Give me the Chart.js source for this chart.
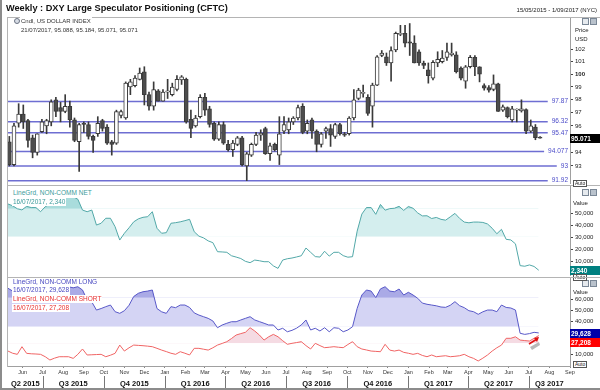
<!DOCTYPE html>
<html>
<head>
<meta charset="utf-8">
<script src="https://cdn.jsdelivr.net/npm/chart.js@4.4.1/dist/chart.umd.min.js"></script>
<style>
  body { margin: 0; background: #fff; }
  #box { position: relative; width: 600px; height: 390px; overflow: hidden; background: #fff;
         font-family: "Liberation Sans", Arial, sans-serif; color: #222; }
  #box canvas { position: absolute; left: 0; }
  .tx { position: absolute; white-space: nowrap; font-size: 6px; line-height: 8px; }
  .lg { position: absolute; white-space: nowrap; font-size: 6.5px; line-height: 8.5px; background: #fff; padding: 0 1px; }
  .hl { position: absolute; left: 7px; width: 593px; height: 1px; background: #b4b4b4; }
  .btn { position: absolute; width: 5px; height: 5px; border: 1px solid #7a8796; background: #e6eaee; }
  .btn.x { background: #b9c2cc; }
  .auto { position: absolute; left: 573px; font-size: 5px; line-height: 5px; border: 1px solid #555; padding: 0 1px; background: #fff; }
</style>
</head>
<body>
<div id="box">
  <canvas id="c1" width="600" height="167" style="top:17px"></canvas>
  <canvas id="c2" width="600" height="90" style="top:186px"></canvas>
  <canvas id="c3" width="600" height="112" style="top:278px"></canvas>

  <div style="position:absolute;left:0;top:0;width:2px;height:390px;background:#8c8c8c"></div>
  <div style="position:absolute;left:0;top:388px;width:600px;height:2px;background:#8c8c8c"></div>
  <div style="position:absolute;left:7px;top:17px;width:1px;height:350px;background:#b4b4b4"></div>
  <div class="hl" style="top:17px"></div>
  <div class="hl" style="top:185px"></div>

  <div class="tx" style="left:6px;top:3px;font-size:9.2px;font-weight:bold;line-height:11px;color:#111">Weekly : DXY Large Speculator Positioning (CFTC)</div>
  <div class="tx" style="right:3px;top:6px">15/05/2015 - 1/09/2017 (NYC)</div>

  <div style="position:absolute;left:14px;top:18px;width:4px;height:4px;border:1px solid #6a7282;border-radius:50%;background:#d8dde6"></div>
  <div class="lg" style="left:20px;top:17px;color:#333;font-size:6px">Cndl, US DOLLAR INDEX</div>
  <div class="lg" id="lg1b" style="left:20px;top:25.5px;color:#333;font-size:6px"></div>
  <div class="lg" style="left:12px;top:189px;color:#3a9a9a">LineGrd, NON-COMM NET</div>
  <div class="lg" id="lg2b" style="left:12px;top:197.7px;color:#3a9a9a"></div>
  <div class="lg" style="left:12px;top:277.5px;color:#4646c0">LineGrd, NON-COMM LONG</div>
  <div class="lg" id="lg3b" style="left:12px;top:286px;color:#4646c0"></div>
  <div class="lg" style="left:12px;top:294.5px;color:#e83030">LineGrd, NON-COMM SHORT</div>
  <div class="lg" id="lg3d" style="left:12px;top:303.5px;color:#e83030"></div>

  <div class="tx" style="left:575px;top:26px">Price</div>
  <div class="tx" style="left:575px;top:35px">USD</div>
  <div class="tx" style="left:573px;top:199px">Value</div>
  <div class="tx" style="left:573px;top:288px">Value</div>

  <div class="btn" style="left:582px;top:18px"></div><div class="btn x" style="left:590px;top:18px"></div>
  <div class="btn" style="left:582px;top:189px"></div><div class="btn x" style="left:590px;top:189px"></div>
  <div class="btn" style="left:582px;top:280px"></div><div class="btn x" style="left:590px;top:280px"></div>
  <div class="auto" style="top:180px">Auto</div>
  <div class="auto" style="top:274px">Auto</div>
  <div class="hl" style="top:277px"></div>
  <div class="auto" style="top:361px">Auto</div>

  <svg style="position:absolute;left:520px;top:330px" width="24" height="22">
    <path d="M10 17 L19 12 L20 15 L12 20 Z" fill="#b8b8b8"/>
    <path d="M9 14 L17 9" stroke="#e01010" stroke-width="1.6"/>
    <path d="M19 7 L14 8 L17 12 Z" fill="#e01010"/>
  </svg>
</div>

<script>
// Weekly candles, weeks ending on Fridays, first week 15/05/2015
const opens = [94.8, 93.1, 96.2, 96.9, 96.4, 95.1, 94.0, 95.55, 96.0, 96.3,
  98.0, 97.4, 97.1, 97.5, 96.45, 94.8, 96.2, 96.1, 95.2, 95.4,
  96.4, 95.9, 94.8, 94.7, 96.8, 96.6, 99.0, 99.1, 99.6, 100.2,
  98.4, 97.5, 98.7, 97.9, 98.6, 98.4, 98.8, 99.55, 99.6, 96.5,
  96.0, 96.7, 98.2, 97.3, 96.2, 95.0, 96.1, 94.6, 94.2, 94.6,
  95.1, 93.0, 93.8, 94.6, 95.3, 95.8, 93.9, 94.6, 93.8, 95.6,
  95.7, 96.3, 96.6, 97.5, 95.6, 96.45, 95.6, 94.6, 95.6, 95.8,
  95.2, 96.1, 95.4, 95.4, 96.6, 98.1, 98.5, 98.2, 97.5, 99.15,
  101.5, 101.4, 100.9, 101.95, 103.2, 103.3, 102.6, 102.5, 101.8, 100.9,
  100.35, 99.7, 100.9, 101.0, 101.35, 101.55, 101.55, 100.5, 99.45, 100.6,
  101.35, 100.6, 99.1, 98.95, 98.8, 99.25, 97.2, 97.4, 96.45, 97.2,
  97.15, 97.25, 95.6, 95.9, 95.088];
const highs = [95.2, 96.2, 97.7, 97.6, 96.5, 95.3, 95.4, 96.5, 96.5, 98.0,
  98.2, 97.8, 98.4, 97.9, 96.6, 96.2, 96.3, 96.3, 95.3, 96.7,
  96.5, 96.1, 94.9, 97.2, 97.2, 99.4, 99.6, 99.9, 100.5, 100.6,
  98.6, 99.4, 98.8, 98.8, 99.6, 99.3, 99.9, 99.9, 99.7, 97.2,
  96.8, 98.4, 98.5, 97.5, 96.3, 96.3, 96.3, 94.9, 94.9, 95.2,
  95.2, 94.0, 94.7, 95.5, 95.7, 95.9, 94.7, 94.7, 96.7, 96.7,
  96.6, 96.7, 97.6, 97.7, 96.45, 96.6, 95.7, 95.5, 95.9, 96.1,
  96.2, 96.2, 95.5, 96.7, 98.8, 98.9, 99.15, 98.4, 99.3, 101.5,
  101.9, 101.7, 102.2, 103.4, 103.95, 103.95, 104.1, 103.1, 101.95, 101.05,
  100.9, 101.1, 101.8, 101.9, 102.5, 102.5, 101.8, 100.6, 100.7, 101.5,
  101.5, 100.6, 99.25, 99.1, 99.95, 99.3, 97.6, 97.45, 97.5, 97.3,
  98.0, 97.3, 96.45, 96.1, 95.184];
const lows = [93.0, 93.0, 95.9, 95.8, 94.4, 93.6, 93.8, 95.5, 95.4, 96.0,
  96.7, 96.3, 97.0, 95.9, 94.8, 92.6, 95.5, 95.0, 94.0, 95.2,
  95.6, 94.6, 93.8, 94.6, 96.6, 96.5, 98.4, 99.0, 99.55, 97.6,
  97.2, 97.2, 97.9, 97.9, 98.1, 98.3, 98.7, 99.2, 96.2, 95.1,
  95.9, 96.6, 96.8, 95.9, 94.9, 94.9, 94.6, 94.1, 93.7, 94.5,
  93.0, 91.92, 93.7, 94.5, 94.9, 93.85, 93.4, 94.1, 93.1, 95.4,
  95.4, 96.1, 96.45, 95.4, 95.4, 95.05, 94.05, 94.4, 95.05, 94.45,
  95.05, 95.3, 95.2, 95.3, 96.45, 98.0, 98.2, 96.8, 95.9, 99.1,
  101.4, 100.7, 99.45, 101.8, 103.1, 102.2, 101.5, 100.9, 100.7, 100.45,
  99.3, 99.55, 100.6, 100.9, 101.1, 101.45, 100.1, 99.55, 98.9, 100.5,
  99.9, 99.4, 98.75, 98.6, 98.7, 97.1, 97.1, 96.6, 96.3, 96.3,
  97.05, 95.4, 95.5, 94.95, 95.071];
const closes = [93.1, 96.0, 96.9, 96.3, 94.9, 94.0, 95.4, 96.3, 96.4, 97.85,
  97.1, 97.1, 97.5, 96.45, 94.9, 96.1, 96.1, 95.2, 94.9, 96.2,
  95.8, 94.7, 94.6, 97.1, 97.1, 99.3, 99.4, 99.7, 100.1, 98.4,
  97.5, 98.8, 97.9, 98.6, 98.7, 99.0, 99.6, 99.8, 96.3, 95.8,
  96.6, 98.2, 97.2, 96.1, 95.0, 96.1, 94.7, 94.2, 94.7, 95.1,
  93.1, 93.9, 94.6, 95.3, 95.45, 93.9, 94.5, 94.2, 95.4, 96.1,
  96.3, 96.6, 97.4, 95.5, 96.2, 95.6, 94.6, 95.4, 95.8, 95.3,
  96.1, 95.4, 95.3, 96.6, 98.0, 98.75, 98.55, 96.95, 99.15, 101.4,
  101.7, 100.9, 101.9, 103.3, 103.3, 102.5, 102.5, 100.9, 100.9, 100.7,
  99.9, 100.95, 101.2, 101.3, 101.8, 101.7, 100.2, 99.7, 100.6, 101.35,
  100.6, 100.0, 98.9, 98.75, 99.25, 97.1, 97.45, 96.7, 97.3, 97.25,
  97.3, 95.6, 96.0, 95.1, 95.071];

const priceLevels = [97.87, 96.32, 95.47, 94.077, 93, 91.92];
const priceTicks = [93, 94, 95, 96, 97, 98, 99, 100, 101, 102];

// CFTC non-commercial positions, weekly, first week 10/05/2015 (contracts)
const netValues = [58000, 56500, 54000, 53000, 56000, 55000, 55000, 51500, 55700, 58000,
  61000, 63000, 64000, 65000, 64000, 62000, 52900, 51500, 52900, 40300,
  41800, 46000, 46000, 38900, 27700, 33400, 38000, 43000, 45500, 46800,
  47300, 51500, 37600, 33400, 33900, 41800, 42300, 43000, 44000, 45100,
  34700, 31000, 29500, 27000, 25500, 17900, 17700, 17400, 14500, 13400,
  12200, 9800, 8700, 10900, 10300, 9500, 9500, 6000, 3900, 10900,
  12000, 12600, 13500, 14500, 21000, 17400, 13800, 13400, 18300, 14200,
  17400, 17400, 14600, 13300, 13700, 35200, 49500, 55000, 55000, 49300,
  57600, 52800, 54100, 54400, 56000, 52600, 55900, 54400, 50500, 48000,
  48100, 45800, 46700, 45100, 44400, 47200, 50100, 45900, 42800, 42200,
  42800, 42800, 42500, 41200, 37600, 33000, 36700, 28300, 27800, 24500,
  6200, 5700, 6800, 5500, 2340];
const longValues = [70600, 68000, 70000, 65000, 67000, 66000, 65000, 61000, 63000, 64000,
  65000, 68000, 71000, 72000, 71000, 72000, 69000, 60000, 58000, 50600,
  52000, 53700, 55200, 49100, 47600, 50000, 55000, 63000, 66000, 67400,
  68000, 69000, 52000, 49000, 47600, 53700, 52800, 55200, 55200, 53000,
  48000, 46000, 44500, 43000, 40600, 34400, 36900, 38500, 39900, 39900,
  41500, 43000, 44500, 41500, 40000, 38500, 36900, 36900, 32300, 33900,
  30700, 32000, 34000, 37000, 41500, 32300, 33900, 31400, 34400, 30700,
  34400, 33900, 30700, 32300, 35300, 52200, 64400, 69000, 68000, 62000,
  70000, 72000, 68000, 67400, 69900, 64400, 66900, 64400, 61400, 57000,
  55900, 55200, 54500, 53400, 53100, 55000, 58300, 54600, 52800, 50000,
  49100, 46700, 49000, 50600, 50600, 49100, 55200, 53000, 52500, 50600,
  29300, 28300, 29000, 30200, 29628];
const shortValues = [13000, 11000, 10000, 17000, 10900, 10500, 10300, 10000, 7800, 4800,
  6500, 7800, 7800, 7800, 6300, 10000, 14900, 9400, 9600, 9800,
  10000, 7800, 9200, 10900, 18500, 13000, 16000, 18500, 18200, 17900,
  17500, 17000, 15500, 13900, 12500, 11000, 10000, 12400, 11000, 9400,
  15500, 15500, 14700, 13900, 16000, 18500, 20000, 21600, 24500, 27700,
  29000, 30200, 34400, 31400, 27700, 23100, 26100, 28300, 26100, 22500,
  19200, 20100, 20800, 21600, 18000, 14900, 20100, 18000, 16100, 16500,
  17000, 16500, 16100, 19000, 21600, 17000, 14900, 14000, 13000, 12700,
  12400, 19200, 13900, 13000, 13900, 11800, 11000, 10000, 10900, 9000,
  7800, 9400, 7800, 8300, 8700, 7800, 8200, 8700, 10000, 7800,
  6300, 3900, 6500, 9400, 13000, 16000, 18500, 24700, 24700, 26100,
  23100, 22600, 22200, 24700, 27208];

const netBands = [30500, 54000];
const longBands = [35300, 62000];
const shortBand = 20100;
const netTicks = [10000, 20000, 30000, 40000, 50000];
const posTicks = [10000, 20000, 30000, 40000, 50000, 60000];

const monthLabels = ['Jun', 'Jul', 'Aug', 'Sep', 'Oct', 'Nov', 'Dec', 'Jan', 'Feb', 'Mar', 'Apr', 'May',
  'Jun', 'Jul', 'Aug', 'Sep', 'Oct', 'Nov', 'Dec', 'Jan', 'Feb', 'Mar', 'Apr', 'May',
  'Jun', 'Jul', 'Aug', 'Sep'];
const quarterLabels = ['Q2 2015', 'Q3 2015', 'Q4 2015', 'Q1 2016', 'Q2 2016', 'Q3 2016',
  'Q4 2016', 'Q1 2017', 'Q2 2017', 'Q3 2017'];

// ---- time axis in days from 15/05/2015
const DAY = 864e5;
const t0 = Date.UTC(2015, 4, 15);
const dayOf = (y, m, d) => (Date.UTC(y, m, d) - t0) / DAY;
const xMin = -5, xMax = 840;
const candleDay = i => 7 * i - 3;
const cotDay = k => 7 * k - 5;

const monthTicks = monthLabels.map((_, i) => dayOf(2015, 5 + i, 1));
const quarterStarts = quarterLabels.map((q, i) => dayOf(2015, 3 + 3 * i, 1));
quarterStarts.push(dayOf(2015, 3 + 3 * quarterLabels.length, 1));

const fmt = v => v.toLocaleString('en-US');
const dmy = d => { const t = new Date(t0 + d * DAY); return String(t.getUTCDate()).padStart(2, '0') + '/' +
  String(t.getUTCMonth() + 1).padStart(2, '0') + '/' + t.getUTCFullYear(); };
const last = opens.length - 1;
document.getElementById('lg1b').textContent = dmy(7 * last) + ', ' +
  [opens[last], highs[last], lows[last], closes[last]].join(', ');
document.getElementById('lg2b').textContent = dmy(cotDay(last)) + ', ' + fmt(netValues[last]);
document.getElementById('lg3b').textContent = dmy(cotDay(last)) + ', ' + fmt(longValues[last]);
document.getElementById('lg3d').textContent = dmy(cotDay(last)) + ', ' + fmt(shortValues[last]);

const FONT = '"Liberation Sans", Arial, sans-serif';

const valueBoxes = {
  id: 'valueBoxes',
  afterDraw(chart, args, opts) {
    const { ctx, chartArea: a } = chart;
    const y = chart.scales.y;
    let lastBottom = -1e9;
    ctx.save();
    ctx.font = 'bold 6.5px ' + FONT;
    ctx.textBaseline = 'middle';
    (opts.boxes || []).forEach(b => {
      let top = Math.round(y.getPixelForValue(b.value)) - 4;
      if (top < lastBottom) top = lastBottom;
      ctx.fillStyle = b.bg;
      ctx.fillRect(a.right, top, 30, 9);
      ctx.fillStyle = '#fff';
      ctx.fillText(b.text, a.right + 1, top + 4.8);
      lastBottom = top + 9;
    });
    ctx.restore();
  }
};

const priceLines = {
  id: 'priceLines',
  beforeDatasetsDraw(chart) {
    const { ctx, chartArea: a } = chart;
    const y = chart.scales.y;
    ctx.save();
    ctx.font = '6.5px ' + FONT;
    ctx.textAlign = 'right';
    ctx.textBaseline = 'middle';
    priceLevels.forEach(v => {
      const py = y.getPixelForValue(v);
      const label = String(v);
      const w = ctx.measureText(label).width;
      ctx.strokeStyle = '#6e6ed2';
      ctx.lineWidth = 1.5;
      ctx.beginPath();
      ctx.moveTo(a.left, py);
      ctx.lineTo(a.right - w - 6, py);
      ctx.stroke();
      ctx.fillStyle = '#4b4bc8';
      ctx.fillText(label, a.right - 2, py);
    });
    ctx.restore();
  }
};

const quarterRow = {
  id: 'quarterRow',
  afterDraw(chart) {
    const { ctx, chartArea: a } = chart;
    const x = chart.scales.x;
    ctx.save();
    ctx.strokeStyle = '#777';
    ctx.lineWidth = 1;
    ctx.fillStyle = '#111';
    ctx.font = 'bold 7.5px ' + FONT;
    ctx.textAlign = 'center';
    ctx.textBaseline = 'middle';
    quarterLabels.forEach((q, i) => {
      const s = quarterStarts[i], e = quarterStarts[i + 1];
      const ps = x.getPixelForValue(Math.max(s, x.min));
      const pe = x.getPixelForValue(Math.min(e, x.max));
      if (s > x.min) {
        const px = Math.round(ps) + 0.5;
        ctx.beginPath();
        ctx.moveTo(px, a.bottom + 10);
        ctx.lineTo(px, a.bottom + 22);
        ctx.stroke();
      }
      ctx.fillText(q, (ps + pe) / 2, a.bottom + 17.5);
    });
    ctx.restore();
  }
};

function valueAxis(min, max, ticks) {
  return {
    type: 'linear', position: 'right', min, max, bounds: 'data',
    afterBuildTicks: s => { s.ticks = ticks.map(v => ({ value: v })); },
    afterFit: s => { s.width = 30; s.paddingTop = 0; s.paddingBottom = 0; },
    ticks: { callback: v => fmt(v), font: { family: FONT, size: 6 }, color: '#222', padding: 2, autoSkip: false },
    grid: { drawOnChartArea: false, tickLength: 3, color: '#444' },
    border: { color: '#a0a0a0' }
  };
}

const hiddenX = { type: 'linear', min: xMin, max: xMax, offset: false, display: false, bounds: 'data' };
const base = {
  responsive: false, animation: false, devicePixelRatio: 1,
  layout: { padding: { left: 8 } },
  events: []
};

// ---- price panel
new Chart(document.getElementById('c1'), {
  type: 'bar',
  data: {
    datasets: [
      {
        data: opens.map((o, i) => ({ x: candleDay(i), y: [o, closes[i]] })),
        backgroundColor: opens.map((o, i) => closes[i] >= o ? '#ffffff' : '#4d4d4d'),
        borderColor: '#3a3a3a', borderWidth: 1, borderSkipped: false,
        barThickness: 4, minBarLength: 1, grouped: false, order: 0
      },
      {
        data: lows.map((l, i) => ({ x: candleDay(i), y: [l, highs[i]] })),
        backgroundColor: '#3a3a3a', barThickness: 1, grouped: false, order: 1
      }
    ]
  },
  options: {
    ...base,
    plugins: {
      legend: { display: false }, tooltip: { enabled: false },
      valueBoxes: { boxes: [{ value: closes[last], text: String(closes[last]), bg: '#000' }] }
    },
    scales: {
      x: hiddenX,
      y: {
        type: 'logarithmic', position: 'right', min: 91.68, max: 104.64, bounds: 'data', beginAtZero: false,
        afterBuildTicks: s => { s.ticks = priceTicks.map(v => ({ value: v })); },
        afterFit: s => { s.width = 30; s.paddingTop = 0; s.paddingBottom = 0; },
        ticks: {
          callback: v => String(v), color: '#222', padding: 2, autoSkip: false,
          font: c => ({ family: FONT, size: 6, weight: c.tick && c.tick.value === 100 ? 'bold' : 'normal' })
        },
        grid: { drawOnChartArea: false, tickLength: 3, color: '#444' },
        border: { color: '#a0a0a0' }
      }
    }
  },
  plugins: [priceLines, valueBoxes]
});

// ---- net positioning panel
const cotPoints = vals => vals.map((v, k) => ({ x: cotDay(k), y: v }));
const bandFill = (vals, level, color, order) => ({
  data: cotPoints(vals), borderWidth: 0, pointRadius: 0, order,
  fill: { target: { value: level }, above: color, below: 'rgba(0,0,0,0)' }
});
const lineSet = (vals, color, order) => ({
  data: cotPoints(vals), borderColor: color, borderWidth: 1, pointRadius: 0, fill: false, order
});

new Chart(document.getElementById('c2'), {
  type: 'line',
  data: {
    datasets: [
      bandFill(netValues, netBands[0], '#d4eeee', 3),
      bandFill(netValues, netBands[1], '#a9dcdc', 2),
      lineSet(netValues, '#52a8a8', 1)
    ]
  },
  options: {
    ...base,
    plugins: {
      legend: { display: false }, tooltip: { enabled: false },
      valueBoxes: { boxes: [{ value: netValues[last], text: fmt(netValues[last]), bg: '#008080' }] }
    },
    scales: { x: hiddenX, y: valueAxis(-2500, 73100, netTicks) }
  },
  plugins: [valueBoxes]
});

// ---- long / short panel
new Chart(document.getElementById('c3'), {
  type: 'line',
  data: {
    datasets: [
      bandFill(longValues, longBands[0], '#d4d4f4', 5),
      bandFill(longValues, longBands[1], '#aaaae6', 4),
      bandFill(shortValues, shortBand, '#f5dbe3', 3),
      lineSet(longValues, '#5858c8', 2),
      lineSet(shortValues, '#f06464', 1)
    ]
  },
  options: {
    ...base,
    plugins: {
      legend: { display: false }, tooltip: { enabled: false },
      valueBoxes: { boxes: [
        { value: longValues[last], text: fmt(longValues[last]), bg: '#0000a8' },
        { value: shortValues[last], text: fmt(shortValues[last]), bg: '#ff0000' }
      ] }
    },
    scales: {
      x: {
        type: 'linear', position: 'bottom', min: xMin, max: xMax, offset: false, bounds: 'data',
        afterBuildTicks: s => { s.ticks = monthTicks.map(v => ({ value: v })); },
        afterFit: s => { s.height = 24; s.paddingLeft = 0; s.paddingRight = 0; },
        ticks: {
          callback: (v, i) => monthLabels[i], autoSkip: false, maxRotation: 0,
          font: { family: FONT, size: 5.5 }, color: '#333', padding: 1
        },
        grid: { drawOnChartArea: false, tickLength: 2, color: '#888' },
        border: { color: '#a0a0a0' }
      },
      y: valueAxis(-700, 80000, posTicks)
    }
  },
  plugins: [valueBoxes, quarterRow]
});
</script>
</body>
</html>
